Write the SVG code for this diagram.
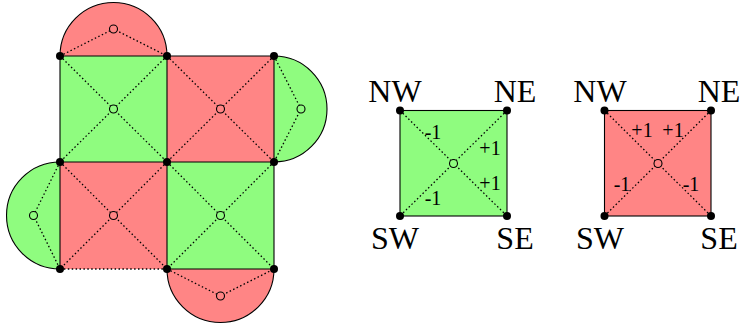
<svg xmlns="http://www.w3.org/2000/svg" width="743" height="328" viewBox="0 0 743 328">
<style>
.g{fill:#8ffc7f}
.r{fill:#ff8585}
.edge{fill:none;stroke:#000;stroke-width:1.1}
.dot{fill:none;stroke:#000;stroke-width:1.3;stroke-dasharray:1.5 2.4}
.v{fill:#000}
.o{stroke:#000;stroke-width:1.1}
.lbl{font-family:"Liberation Serif","DejaVu Serif",serif;font-size:32px;fill:#000;text-anchor:middle}
.w{font-family:"Liberation Serif","DejaVu Serif",serif;font-size:20px;fill:#000;text-anchor:middle}
</style>
<g id="semi-top">
<path class="r" d="M60,56 A53.5,53.5 0 0 1 167,56 Z"/>
<path class="edge" d="M60,56 A53.5,53.5 0 0 1 167,56"/>
<path class="dot" d="M60,56 L113.5,29 L167,56"/>
<circle class="o r" cx="113.5" cy="29" r="4"/>
</g>
<g id="semi-right">
<path class="g" d="M274,56 A53,53 0 0 1 274,162 Z"/>
<path class="edge" d="M274,56 A53,53 0 0 1 274,162"/>
<path class="dot" d="M274,56 L301,109 L274,162"/>
<circle class="o g" cx="301" cy="109" r="4"/>
</g>
<g id="semi-left">
<path class="g" d="M60,269 A53.5,53.5 0 0 1 60,162 Z"/>
<path class="edge" d="M60,269 A53.5,53.5 0 0 1 60,162"/>
<path class="dot" d="M60,162 L33.5,215.5 L60,269"/>
<circle class="o g" cx="33.5" cy="215.5" r="4"/>
</g>
<g id="semi-bottom">
<path class="r" d="M274,269 A53.5,53.5 0 0 1 167,269 Z"/>
<path class="edge" d="M274,269 A53.5,53.5 0 0 1 167,269"/>
<path class="dot" d="M167,269 L220.5,296 L274,269"/>
<circle class="o r" cx="220.5" cy="296" r="4"/>
</g>
<g id="sq-tl">
<rect class="g" x="60" y="56" width="107" height="106"/>
<path class="dot" d="M60,56 L167,162 M167,56 L60,162"/>
</g>
<g id="sq-tr">
<rect class="r" x="167" y="56" width="107" height="106"/>
<path class="dot" d="M167,56 L274,162 M274,56 L167,162"/>
</g>
<g id="sq-bl">
<rect class="r" x="60" y="162" width="107" height="107"/>
<path class="dot" d="M60,162 L167,269 M167,162 L60,269"/>
</g>
<g id="sq-br">
<rect class="g" x="167" y="162" width="107" height="107"/>
<path class="dot" d="M167,162 L274,269 M274,162 L167,269"/>
</g>
<g id="edges">
<path class="edge" d="M60,56 H274 V269 H167 M60,56 V269 M60,162 H274 M167,56 V269"/>
<path class="dot" d="M60,269 H167"/>
</g>
<g id="centers">
<circle class="o g" cx="113.5" cy="109" r="4"/>
<circle class="o r" cx="220.5" cy="109" r="4"/>
<circle class="o r" cx="113.5" cy="215.5" r="4"/>
<circle class="o g" cx="220.5" cy="215.5" r="4"/>
</g>
<g id="vertices">
<circle class="v" cx="60" cy="56" r="4"/>
<circle class="v" cx="167" cy="56" r="4"/>
<circle class="v" cx="274" cy="56" r="4"/>
<circle class="v" cx="60" cy="162" r="4"/>
<circle class="v" cx="167" cy="162" r="4"/>
<circle class="v" cx="274" cy="162" r="4"/>
<circle class="v" cx="60" cy="269" r="4"/>
<circle class="v" cx="167" cy="269" r="4"/>
<circle class="v" cx="274" cy="269" r="4"/>
</g>
<g id="green-key">
<rect class="g" x="400" y="110.5" width="107" height="105.5" stroke="#000" stroke-width="1.1"/>
<path class="dot" d="M400,110.5 L507,216 M507,110.5 L400,216"/>
<circle class="o g" cx="453.5" cy="163.5" r="4"/>
<circle class="v" cx="400" cy="110.5" r="4"/>
<circle class="v" cx="507" cy="110.5" r="4"/>
<circle class="v" cx="400" cy="216" r="4"/>
<circle class="v" cx="507" cy="216" r="4"/>
<text class="w" x="433" y="139">-1</text>
<text class="w" x="490" y="155">+1</text>
<text class="w" x="490" y="190">+1</text>
<text class="w" x="433" y="205">-1</text>
<text class="lbl" x="395" y="102">NW</text>
<text class="lbl" x="515" y="102">NE</text>
<text class="lbl" x="395" y="249">SW</text>
<text class="lbl" x="515" y="249">SE</text>
</g>
<g id="red-key">
<rect class="r" x="604.5" y="110.5" width="106.5" height="105.5" stroke="#000" stroke-width="1.1"/>
<path class="dot" d="M604.5,110.5 L711,216 M711,110.5 L604.5,216"/>
<circle class="o r" cx="658" cy="163.5" r="4"/>
<circle class="v" cx="604.5" cy="110.5" r="4"/>
<circle class="v" cx="711" cy="110.5" r="4"/>
<circle class="v" cx="604.5" cy="216" r="4"/>
<circle class="v" cx="711" cy="216" r="4"/>
<text class="w" x="642" y="137">+1</text>
<text class="w" x="673" y="137">+1</text>
<text class="w" x="622" y="191">-1</text>
<text class="w" x="691" y="191">-1</text>
<text class="lbl" x="600" y="102">NW</text>
<text class="lbl" x="719" y="102">NE</text>
<text class="lbl" x="600" y="249">SW</text>
<text class="lbl" x="719" y="249">SE</text>
</g>
</svg>
